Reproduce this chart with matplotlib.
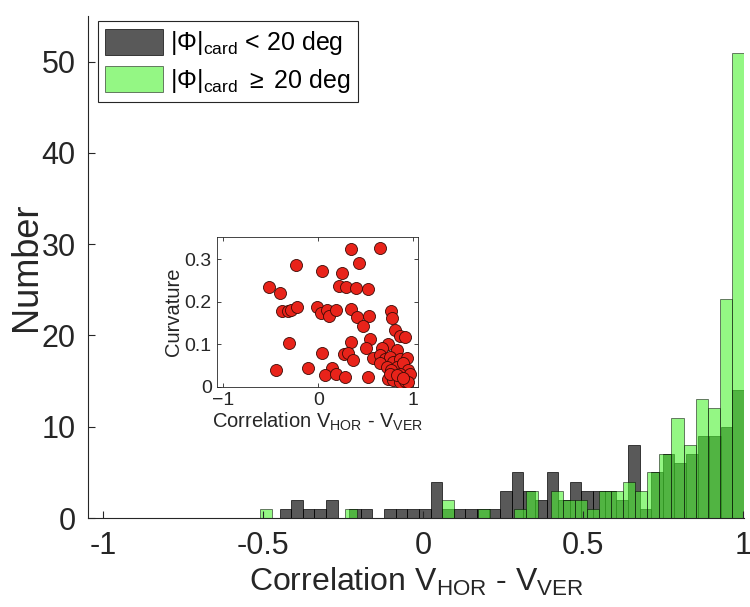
import matplotlib
matplotlib.use("Agg")
import matplotlib.pyplot as plt
import numpy as np

plt.rcParams['font.family'] = ['Liberation Sans', 'DejaVu Sans']
plt.rcParams['mathtext.fontset'] = 'custom'
plt.rcParams['mathtext.rm'] = 'Liberation Sans'
plt.rcParams['mathtext.it'] = 'Liberation Sans:italic'

# histogram counts, 40 bins each (|Phi|card < 20 deg in gray, >= 20 deg in green)
gray_lo, gray_hi = -0.449, 1.003
gray_counts = [1, 2, 1, 1, 2, 0, 1, 1, 0, 1,
               1, 1, 1, 4, 1, 1, 1, 1, 1, 3,
               5, 3, 2, 5, 2, 4, 3, 3, 3, 2,
               8, 1, 5, 7, 6, 7, 9, 9, 10, 14]
green_lo, green_hi = -0.509, 1.003
green_counts = [1, 0, 0, 0, 0, 0, 0, 1, 0, 0,
                0, 0, 0, 0, 0, 2, 0, 0, 1, 0,
                0, 1, 3, 0, 3, 2, 2, 1, 3, 3,
                4, 3, 5, 7, 11, 8, 13, 12, 24, 51]

# inset scatter: correlation vs curvature
corr = [0.35, 0.65, -0.235, 0.43, 0.04, 0.25, -0.516, -0.40, 0.22, 0.29,
        0.40, 0.52, -0.386, -0.32, -0.29, -0.228, -0.018, 0.025, 0.088, 0.11,
        0.186, 0.34, 0.41, 0.537, 0.467, 0.77, 0.78, 0.81, 0.86, 0.91,
        -0.305, 0.34, 0.544, 0.737, 0.667, 0.825, 0.50, 0.042, 0.274, 0.316,
        0.37, 0.58, 0.65, 0.70, 0.754, 0.79, 0.86, 0.93, 0.65, 0.72,
        0.825, 0.895, 0.947, 0.77, 0.86, 0.93, 0.965, -0.44, -0.112, 0.14,
        0.07, 0.19, 0.28, 0.526, 0.737, 0.79, 0.86, 0.91, 0.947, 0.754,
        0.825, 0.895]
curv = [0.324, 0.325, 0.285, 0.29, 0.273, 0.267, 0.234, 0.221, 0.237, 0.234,
        0.231, 0.229, 0.178, 0.178, 0.18, 0.187, 0.187, 0.174, 0.18, 0.167,
        0.18, 0.182, 0.163, 0.165, 0.143, 0.178, 0.161, 0.133, 0.119, 0.116,
        0.102, 0.106, 0.111, 0.10, 0.09, 0.086, 0.09, 0.08, 0.077, 0.08,
        0.063, 0.068, 0.075, 0.064, 0.07, 0.059, 0.064, 0.067, 0.055, 0.047,
        0.047, 0.055, 0.039, 0.039, 0.031, 0.024, 0.03, 0.039, 0.043, 0.045,
        0.027, 0.03, 0.024, 0.022, 0.017, 0.016, 0.012, 0.014, 0.012, 0.031,
        0.027, 0.02]

gray_edges = np.linspace(gray_lo, gray_hi, len(gray_counts) + 1)
green_edges = np.linspace(green_lo, green_hi, len(green_counts) + 1)

fig = plt.figure(figsize=(7.5, 6.07), dpi=100)
ax = fig.add_axes([0.1173, 0.1466, 0.8747, 0.827])

axcol = '#262626'
ax.bar(gray_edges[:-1], gray_counts, width=np.diff(gray_edges), align='edge',
       color=(0, 0, 0, 0.65), edgecolor=(0, 0, 0, 0.8), linewidth=0.6,
       label=r'$|\Phi|_{\mathrm{card}}$ < 20 deg')
ax.bar(green_edges[:-1], green_counts, width=np.diff(green_edges), align='edge',
       color=(0.3, 0.95, 0.2, 0.6), edgecolor=(0, 0, 0, 0.6), linewidth=0.6,
       label=r'$|\Phi|_{\mathrm{card}}$ $\geq$ 20 deg')

ax.set_xlim(-1.048, 1.003)
ax.set_ylim(0, 55)
ax.set_xticks([-1, -0.5, 0, 0.5, 1])
ax.set_xticklabels(['-1', '-0.5', '0', '0.5', '1'])
ax.set_yticks([0, 10, 20, 30, 40, 50])
ax.tick_params(direction='in', length=5, width=0.8, colors=axcol,
               labelsize=22, pad=9)
for s in ['top', 'right']:
    ax.spines[s].set_visible(False)
for s in ['left', 'bottom']:
    ax.spines[s].set_color(axcol)
    ax.spines[s].set_linewidth(0.8)
ax.set_xlabel(r'Correlation V$_{\mathrm{HOR}}$ - V$_{\mathrm{VER}}$',
              fontsize=23, color=axcol, labelpad=4)
ax.set_ylabel('Number', fontsize=26, color=axcol, labelpad=-2)

leg = ax.legend(loc='upper left', bbox_to_anchor=(0.015, 0.99), fontsize=18,
                fancybox=False, framealpha=1, edgecolor='#262626',
                handlelength=2.3, handleheight=1.25, handletextpad=0.3,
                borderpad=0.3, labelspacing=0.35, borderaxespad=0)
leg.get_frame().set_linewidth(0.8)

# inset
ins = fig.add_axes([0.2897, 0.3629, 0.2676, 0.2461])
ins.scatter(corr, curv, s=75, c='#e8231a', edgecolors='#3a0a05',
            linewidths=0.6, zorder=3)
ins.set_xlim(-1.063, 1.05)
ins.set_ylim(0, 0.351)
ins.set_xticks([-1, 0, 1])
ins.set_yticks([0, 0.1, 0.2, 0.3])
ins.set_yticklabels(['0', '0.1', '0.2', '0.3'])
ins.tick_params(direction='in', length=3, width=0.6, colors=axcol,
                labelsize=14, pad=4, top=True, right=True)
for s in ins.spines.values():
    s.set_color(axcol)
    s.set_linewidth(0.6)
ins.set_xlabel(r'Correlation V$_{\mathrm{HOR}}$ - V$_{\mathrm{VER}}$',
               fontsize=14.5, color=axcol, labelpad=1)
ins.set_ylabel('Curvature', fontsize=14.5, color=axcol, labelpad=1)

fig.savefig('out.png', dpi=100)
